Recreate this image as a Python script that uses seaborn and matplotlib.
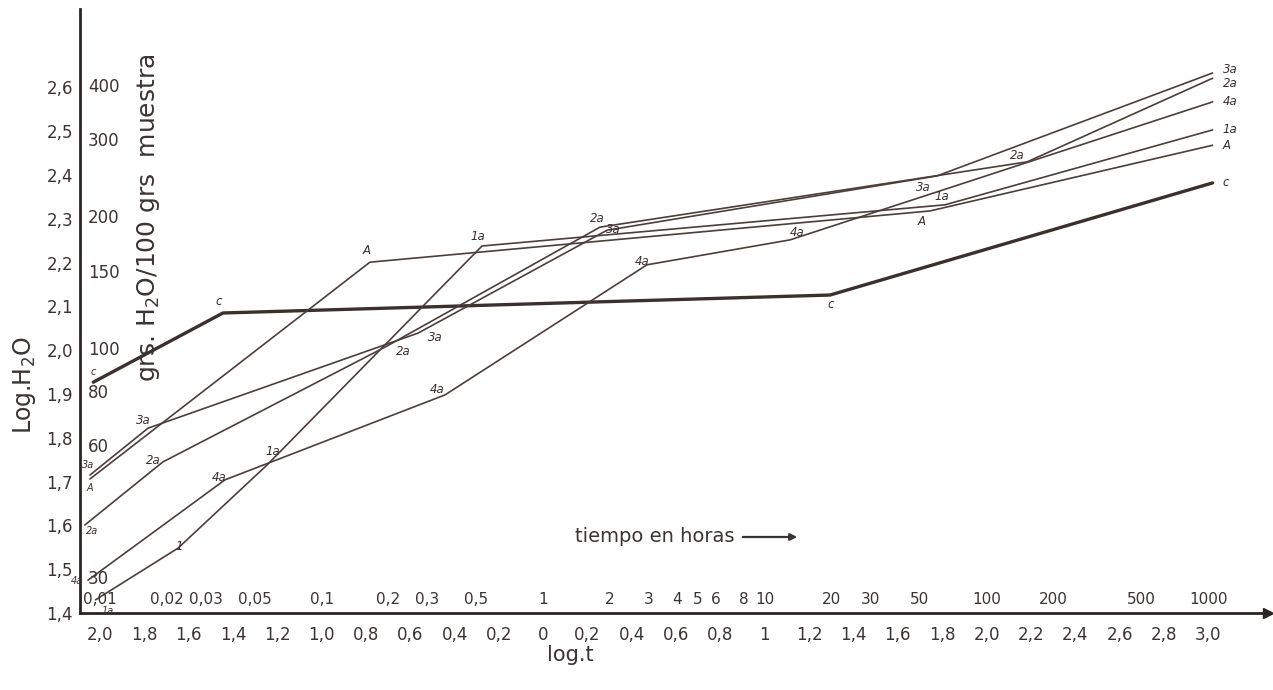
import numpy as np
import pandas as pd
import matplotlib
matplotlib.use("Agg")
import matplotlib.pyplot as plt
import seaborn as sns


# log t (hours) and log H2O (grs / 100 grs muestra) at the drawn break points
c_logt = [-2.03, -1.445, 1.294, 3.02]
c_logw = [1.927, 2.085, 2.126, 2.382]
c_marks = ["c", "c", "c", "c"]

a_logt = [-2.045, -0.782, 1.745, 3.02]
a_logw = [1.706, 2.201, 2.318, 2.468]
a_marks = ["A", "A", "A", "A"]

a1_logt = [-2.02, -1.648, -1.246, -0.276, 1.813, 3.02]
a1_logw = [1.43, 1.548, 1.738, 2.238, 2.332, 2.503]
a1_marks = ["1a", "1", "1a", "1a", "1a", "1a"]

a2_logt = [-2.068, -1.716, -0.714, 0.256, 2.183, 3.02]
a2_logw = [1.601, 1.745, 2.007, 2.281, 2.430, 2.621]
a2_marks = ["2a", "2a", "2a", "2a", "2a", "2a"]

a3_logt = [-2.045, -1.783, -0.565, 0.288, 1.777, 3.02]
a3_logw = [1.715, 1.822, 2.039, 2.274, 2.398, 2.633]
a3_marks = ["3a", "3a", "3a", "3a", "3a", "3a"]

a4_logt = [-2.054, -1.436, -0.443, 0.468, 1.114, 3.02]
a4_logw = [1.475, 1.704, 1.898, 2.195, 2.252, 2.567]
a4_marks = ["4a", "4a", "4a", "4a", "4a", "4a"]

y_ticks = [1.4, 1.5, 1.6, 1.7, 1.8, 1.9, 2.0, 2.1, 2.2, 2.3, 2.4, 2.5, 2.6]
y_ticklabels = ["1,4", "1,5", "1,6", "1,7", "1,8", "1,9", "2,0",
                "2,1", "2,2", "2,3", "2,4", "2,5", "2,6"]
water_labels = [30, 60, 80, 100, 150, 200, 300, 400]

x_ticks = [-2.0, -1.8, -1.6, -1.4, -1.2, -1.0, -0.8, -0.6, -0.4, -0.2, 0.0,
           0.2, 0.4, 0.6, 0.8, 1.0, 1.2, 1.4, 1.6, 1.8, 2.0, 2.2, 2.4, 2.6,
           2.8, 3.0]
x_ticklabels = ["2,0", "1,8", "1,6", "1,4", "1,2", "1,0", "0,8", "0,6", "0,4",
                "0,2", "0", "0,2", "0,4", "0,6", "0,8", "1", "1,2", "1,4",
                "1,6", "1,8", "2,0", "2,2", "2,4", "2,6", "2,8", "3,0"]
hours = [0.01, 0.02, 0.03, 0.05, 0.1, 0.2, 0.3, 0.5, 1, 2, 3, 4, 5, 6, 8, 10,
         20, 30, 50, 100, 200, 500, 1000]
hour_labels = ["0,01", "0,02", "0,03", "0,05", "0,1", "0,2", "0,3", "0,5",
               "1", "2", "3", "4", "5", "6", "8", "10", "20", "30", "50",
               "100", "200", "500", "1000"]


sns.set_style("white")
plt.rcParams["font.family"] = ["DejaVu Sans"]

ink = "#3b302d"
thin = "#4d3e3a"
txt = "#3a3432"

fig = plt.figure(figsize=(12.73, 6.9), dpi=100)
ax = fig.add_axes([80 / 1273, 77 / 690, 1188 / 1273, 604.4 / 690])

curves = [
    (c_logt, c_logw, c_marks, 2.4, ink,
     [(0, 10), (-4, 11), (1, -9), (10, 0)]),
    (a_logt, a_logw, a_marks, 1.2, thin,
     [(0, -9), (-3, 12), (-8, -11), (10, 0)]),
    (a1_logt, a1_logw, a1_marks, 1.2, thin,
     [(12, -11), (1, 2), (6, 13), (-4, 9), (-3, 8), (10, 0)]),
    (a2_logt, a2_logw, a2_marks, 1.2, thin,
     [(7, -6), (-10, 1), (18, -4), (-3, 9), (-10, 6), (10, -5)]),
    (a3_logt, a3_logw, a3_marks, 1.2, thin,
     [(-2, 10), (-5, 8), (17, -4), (6, 1), (-14, -12), (10, 3)]),
    (a4_logt, a4_logw, a4_marks, 1.2, thin,
     [(-11, -1), (-6, 2), (-8, 5), (-5, 3), (7, 7), (10, 0)]),
]

for logt, logw, marks, lw, col, offs in curves:
    df = pd.DataFrame({"logt": logt, "logw": logw})
    sns.lineplot(data=df, x="logt", y="logw", ax=ax, sort=False,
                 estimator=None, color=col, lw=lw, legend=False)
    for i, (xv, yv, m) in enumerate(zip(logt, logw, marks)):
        dx, dy = offs[i]
        last = i == len(logt) - 1
        first = i == 0
        ax.annotate(m, xy=(xv, yv), xytext=(dx, dy),
                    textcoords="offset pixels",
                    ha="left" if last else "center", va="center",
                    fontsize=7 if first else 8.5, style="italic", color=ink,
                    annotation_clip=False)

ax.set_xlim(-2.09, 3.27)
ax.set_ylim(1.4, 2.78)

for s in ["top", "right"]:
    ax.spines[s].set_visible(False)
for s in ["left", "bottom"]:
    ax.spines[s].set_color("#2a2422")
    ax.spines[s].set_linewidth(2)
ax.plot(1, 0, ">", transform=ax.transAxes, clip_on=False, ms=7,
        color="#2a2422")

ax.set_yticks(y_ticks, y_ticklabels)
ax.set_yticks(np.log10(water_labels), minor=True)
ax.tick_params(axis="y", which="major", direction="inout", length=8,
               width=1.2, labelsize=12, pad=1, colors=txt)
ax.tick_params(axis="y", which="minor", direction="in", length=6,
               width=1.2, colors=txt)
for w in water_labels:
    ax.annotate(str(w), xy=(0, np.log10(w)), xycoords=("axes fraction", "data"),
                xytext=(8, 0), textcoords="offset pixels", ha="left",
                va="center", fontsize=12, color=txt)

ax.set_xticks(x_ticks, x_ticklabels)
ax.set_xticks(np.log10(hours), minor=True)
ax.tick_params(axis="x", which="major", direction="inout", length=6,
               width=1.2, labelsize=12, pad=6, colors=txt)
ax.tick_params(axis="x", which="minor", direction="in", length=5,
               width=1.2, colors=txt)
for h, lab in zip(hours, hour_labels):
    ax.annotate(lab, xy=(np.log10(h), 0), xycoords=("data", "axes fraction"),
                xytext=(0, 6), textcoords="offset pixels", ha="center",
                va="bottom", fontsize=11, color=txt)

ax.set_xlabel("")
ax.set_ylabel("")

fig.text(570 / 1273, 1 - 655 / 690, "log.t", fontsize=15, ha="center",
         va="center", color=txt)
fig.text(24 / 1273, 1 - 385 / 690, "Log.H$_2$O", fontsize=17, rotation=90,
         ha="center", va="center", color=txt)
fig.text(148 / 1273, 1 - 218 / 690, "grs. H$_2$O/100 grs  muestra",
         fontsize=18, rotation=90, ha="center", va="center", color=txt)
fig.text(655 / 1273, 1 - 537 / 690, "tiempo en horas", fontsize=14,
         ha="center", va="center", color=txt)
ax.annotate("", xy=(800 / 1273, 1 - 537 / 690), xytext=(740 / 1273, 1 - 537 / 690),
            xycoords="figure fraction", textcoords="figure fraction",
            arrowprops=dict(arrowstyle="-|>", lw=1.6, color=txt))

fig.savefig("out.png", dpi=100)
